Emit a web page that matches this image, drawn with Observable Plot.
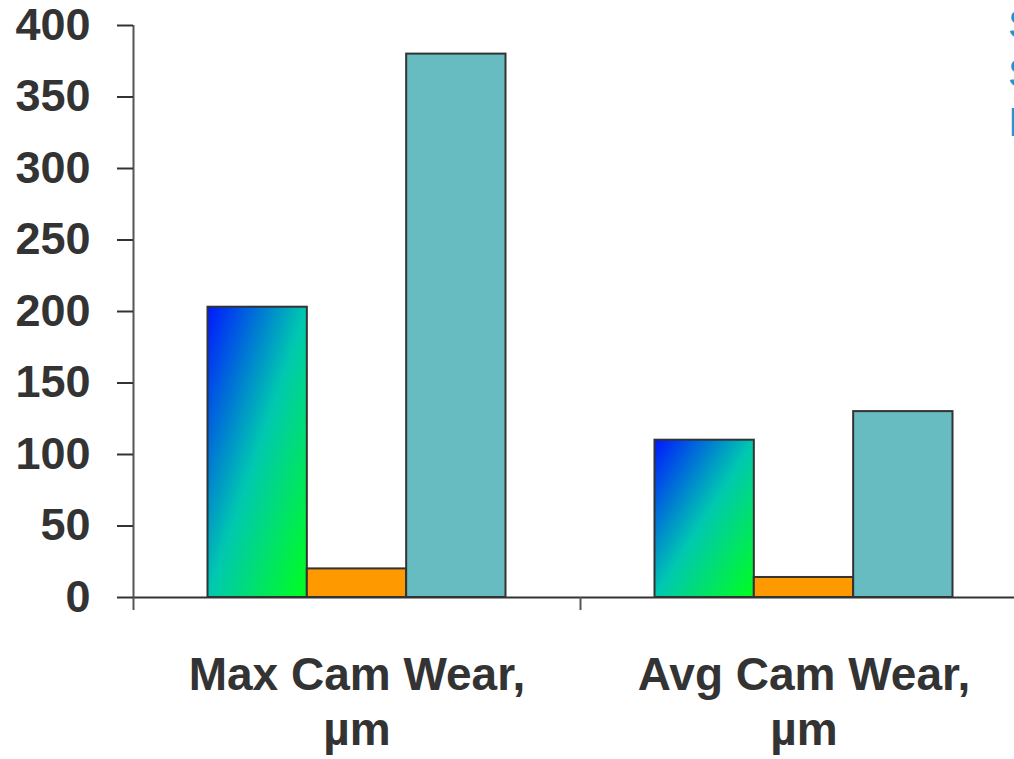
<!DOCTYPE html>
<html>
<head>
<meta charset="utf-8">
<script src="https://cdn.jsdelivr.net/npm/d3@7"></script>
<script src="https://cdn.jsdelivr.net/npm/@observablehq/plot@0.6"></script>
<style>
  html, body { margin: 0; padding: 0; background: #fff; overflow: hidden; }
  #wrap { position: relative; width: 1014px; height: 759px; overflow: hidden; }
  #legend { position: absolute; left: 1008px; top: 0px; font-family: "Liberation Sans", Arial, sans-serif;
            font-size: 40px; line-height: 49px; color: #1a96d4; white-space: nowrap; }
</style>
</head>
<body>
<div id="wrap"><div id="legend"></div></div>
<script>
// ---- data ----
const categories = ["Max Cam Wear,\nµm", "Avg Cam Wear,\nµm"];
const seriesNames = ["Standard", "Synthetic", "Improved"];
const seriesA = [203, 110];
const seriesB = [20, 14];
const seriesC = [380, 130];
const yTicks = [0, 50, 100, 150, 200, 250, 300, 350, 400];
const seriesFills = ["url(#gradA)", "#ff9900", "#66bcc0"];

const seriesValues = [seriesA, seriesB, seriesC];
const rows = [];
seriesNames.forEach((s, si) => categories.forEach((c, ci) => rows.push({series: s, si, category: c, value: seriesValues[si][ci]})));

const width = 1014, height = 759;
const marginLeft = 133, marginTop = 25, marginBottom = 162;
const xRange = [marginLeft, 1027];
const bw = (xRange[1] - xRange[0]) / categories.length;
const outer = bw / 6, barW = bw * 2 / 9;

const font = '"Liberation Sans", Arial, sans-serif';

const barMarks = seriesNames.map((s, i) => Plot.barY(rows.filter(d => d.si === i), {
  x: "category", y: "value",
  fill: seriesFills[i], stroke: "#333", strokeWidth: 2,
  insetLeft: outer + i * barW,
  insetRight: bw - outer - (i + 1) * barW
}));

const chart = Plot.plot({
  width, height, marginLeft, marginRight: 0, marginTop, marginBottom,
  style: {fontFamily: font, color: "#333", background: "white", overflow: "hidden"},
  x: {domain: categories, range: xRange, padding: 0, axis: null},
  y: {domain: [0, 400], axis: null},
  marks: [
    ...barMarks,
    Plot.ruleY([0], {stroke: "#333", strokeWidth: 2}),
    Plot.ruleX([categories[0]], {x: d => d, dx: -bw / 2, stroke: "#555", strokeWidth: 2}),
    Plot.axisX({ticks: categories, tickSize: 13, tickFormat: () => "", label: null, dx: -bw / 2, stroke: "#555", strokeWidth: 2}),
    Plot.axisY({ticks: yTicks, tickSize: 16, tickPadding: 27, label: null, fontSize: 45, fontWeight: "bold", strokeWidth: 2, fill: "#333", stroke: "#333"}),
    Plot.text(categories, {x: d => d, frameAnchor: "bottom", dy: 53, lineAnchor: "top", lineHeight: 1.2,
      fontSize: 46, fontWeight: "bold", fill: "#333", text: d => d})
  ]
});

// gradient definition for first series
const ns = "http://www.w3.org/2000/svg";
const defs = document.createElementNS(ns, "defs");
const lg = document.createElementNS(ns, "linearGradient");
lg.setAttribute("id", "gradA");
lg.setAttribute("x1", "0"); lg.setAttribute("y1", "0");
lg.setAttribute("x2", "1"); lg.setAttribute("y2", "1");
[["0%", "#0018ff"], ["50%", "#00c8b0"], ["100%", "#00ff1c"]].forEach(([o, c]) => {
  const st = document.createElementNS(ns, "stop");
  st.setAttribute("offset", o); st.setAttribute("stop-color", c);
  lg.appendChild(st);
});
defs.appendChild(lg);
chart.prepend(defs);

const wrap = document.getElementById("wrap");
wrap.insertBefore(chart, wrap.firstChild);

const legend = document.getElementById("legend");
seriesNames.forEach(s => { const d = document.createElement("div"); d.textContent = s; legend.appendChild(d); });
</script>
</body>
</html>
